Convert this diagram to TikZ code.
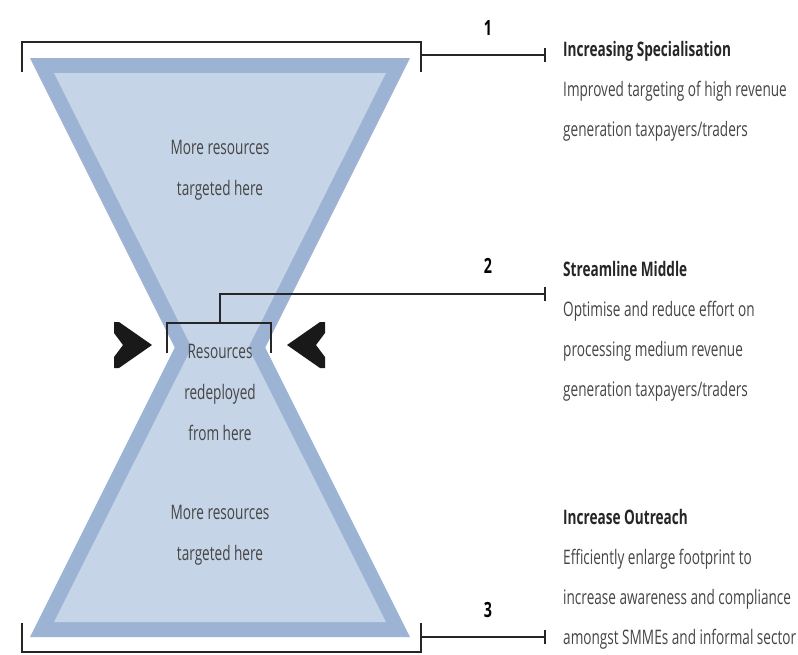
\documentclass[tikz,border=0pt]{standalone}
\usepackage{fontspec}
\setmainfont{Open Sans}[FakeStretch=0.68]
\usepackage{xcolor}
\usepackage{tikz}

\definecolor{bandblue}{HTML}{9CB3D4}
\definecolor{fillblue}{HTML}{C6D4E7}
\definecolor{txtgrey}{HTML}{454545}
\definecolor{linegrey}{HTML}{262626}
\newcommand{\blockhead}[1]{{\bfseries\color{black!85}#1}}

\tikzset{
    brace/.style={draw=linegrey,line width=2pt},
    lead/.style={draw=linegrey,line width=2.4pt},
    endtick/.style={draw=linegrey,line width=1.4pt},
    hglass/.style={font=\fontsize{20}{41}\selectfont,text=txtgrey,align=center,inner sep=0},
    desc/.style={font=\fontsize{20}{40}\selectfont,text=txtgrey,align=left,inner sep=0,anchor=north west},
    num/.style={font=\fontsize{21}{21}\selectfont\bfseries,text=black},
    pusher/.style={fill=black!90}
}

\begin{document}
\begin{tikzpicture}[x=1pt,y=-1pt]
    \useasboundingbox (0,0) rectangle (798,654);
    % hourglass
    \fill[bandblue] (30,58) -- (410,58) -- (220,438) -- cycle;
    \fill[bandblue] (30,637) -- (410,637) -- (220,257) -- cycle;
    \fill[fillblue] (54,73) -- (386,73) -- (220,404) -- cycle;
    \fill[fillblue] (54,622) -- (386,622) -- (220,291) -- cycle;

    \node[hglass] (top) at (220,170) {More resources\\targeted here};
    \node[hglass] (mid) at (220,392) {Resources\\redeployed\\from here};
    \node[hglass] (bot) at (220,535) {More resources\\targeted here};

    % brackets
    \draw[brace] (22,72) -- (22,42) -- (421,42) -- (421,72);
    \draw[brace] (167,353) -- (167,323) -- (271,323) -- (271,353);
    \draw[brace] (22,623) -- (22,652) -- (421,652) -- (421,623);

    \coordinate (b1) at (421,55);
    \coordinate (b2) at (220,323);
    \coordinate (b3) at (421,637);
    \coordinate (e1) at (545,55);
    \coordinate (e2) at (545,294);
    \coordinate (e3) at (545,637);
    \draw[lead] (b1) -- (e1);
    \draw[lead] (b2) |- (e2);
    \draw[lead] (b3) -- (e3);
    \draw[endtick] ([yshift=-7pt]e1) -- ([yshift=7pt]e1);
    \draw[endtick] ([yshift=-7pt]e2) -- ([yshift=7pt]e2);
    \draw[endtick] ([yshift=-7pt]e3) -- ([yshift=7pt]e3);

    \node[num] (n1) at (488,28) {1};
    \node[num] (n2) at (488,266) {2};
    \node[num] (n3) at (488,610) {3};

    % squeeze arrows
    \fill[pusher] (114,322) -- (119,322) -- (152,345) -- (119,368) -- (114,368) -- (114,357) -- (123,345) -- (114,333) -- cycle;
    \fill[pusher] (325,322) -- (320,322) -- (287,345) -- (320,368) -- (325,368) -- (325,357) -- (316,345) -- (325,333) -- cycle;

    \node[desc] (d1) at (563,41) {\blockhead{Increasing Specialisation}\\Improved targeting of high revenue\\generation taxpayers/traders};
    \node[desc] (d2) at (563,261) {\blockhead{Streamline Middle}\\Optimise and reduce effort on\\processing medium revenue\\generation taxpayers/traders};
    \node[desc] (d3) at (563,509) {\blockhead{Increase Outreach}\\Efficiently enlarge footprint to\\increase awareness and compliance\\amongst SMMEs and informal sector};
\end{tikzpicture}
\end{document}
